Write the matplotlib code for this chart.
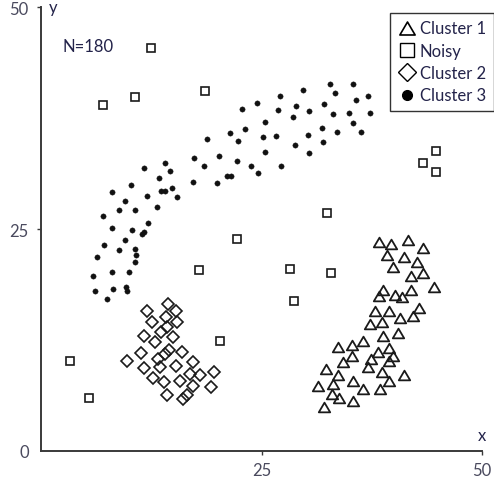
import matplotlib
matplotlib.use("Agg")
import matplotlib.pyplot as plt
from matplotlib.lines import Line2D
from matplotlib.path import Path

plt.rcParams["font.family"] = ["Lato", "DejaVu Sans"]

# ---- data ----
c1_x = [38.3, 39.7, 41.6, 43.3, 39.2, 41.2, 42.6, 39.9, 41.9, 43.3, 44.5, 38.8,
        42.0, 38.3, 40.1, 40.9, 37.9, 39.5, 42.8, 40.7, 42.2, 37.3, 38.7, 38.8,
        40.5, 33.7, 35.3, 36.5, 35.3, 38.2, 39.5, 34.2, 37.4, 39.9, 39.5, 37.1,
        32.3, 33.7, 38.7, 41.2, 35.4, 31.4, 33.1, 39.4, 36.5, 38.4, 33.0, 33.8,
        35.4, 32.1]
c1_y = [23.5, 23.3, 23.8, 22.9, 22.1, 21.8, 21.3, 20.7, 19.7, 20.0, 18.5, 18.1,
        18.1, 17.4, 17.6, 17.3, 15.7, 15.7, 16.1, 15.0, 15.2, 14.3, 14.5, 12.9,
        13.3, 11.7, 11.9, 12.4, 10.7, 11.1, 11.6, 10.0, 10.3, 10.7, 10.1, 9.4,
        9.2, 8.5, 8.9, 8.5, 7.9, 7.3, 7.5, 7.9, 7.0, 7.0, 6.4, 5.9,
        5.6, 4.9]

noisy_x = [12.5, 7.0, 10.6, 18.6, 44.8, 43.3, 44.8, 32.4, 22.2, 17.9, 28.2, 32.9,
           28.7, 20.3, 3.3, 5.4]
noisy_y = [45.4, 39.0, 39.9, 40.6, 33.8, 32.5, 31.4, 26.8, 23.9, 20.4, 20.5, 20.0,
           16.9, 12.4, 10.1, 5.9]

c2_x = [14.4, 12.0, 15.3, 14.2, 12.6, 15.4, 14.3, 13.6, 11.7, 14.9, 12.9, 14.5,
        16.0, 11.3, 9.7, 13.2, 14.0, 17.2, 15.3, 11.7, 13.5, 16.9, 19.6, 18.0,
        12.7, 13.9, 15.7, 17.2, 19.3, 14.3, 16.5, 16.1]
c2_y = [16.5, 15.7, 15.7, 15.1, 14.5, 14.5, 13.9, 13.4, 12.9, 12.8, 12.3, 11.4,
        11.1, 11.0, 10.1, 10.3, 10.9, 10.0, 9.5, 9.3, 9.4, 8.6, 8.9, 8.5,
        8.2, 7.7, 7.9, 7.3, 7.2, 6.3, 6.3, 5.8]

c3_x = [23.1, 21.4, 22.3, 18.8, 17.3, 20.2, 22.2, 23.8, 24.6, 18.5, 14.0, 11.7,
        14.6, 13.4, 21.1, 21.5, 17.2, 19.9, 10.2, 8.0, 13.6, 14.0, 14.8, 15.4,
        12.0, 9.5, 8.8, 10.6, 13.1, 7.0, 8.0, 10.3, 12.1, 11.4, 11.7, 9.5,
        7.1, 8.8, 10.6, 10.7, 6.3, 10.6, 5.9, 8.0, 10.0, 6.1, 8.1, 9.6,
        9.7, 7.5, 32.7, 35.4, 33.3, 29.7, 27.1, 37.1, 35.7, 24.5, 28.9, 32.1,
        22.8, 26.9, 30.4, 33.1, 34.9, 37.3, 28.6, 25.4, 35.4, 31.9, 33.5, 36.3,
        30.3, 25.2, 26.6, 32.0, 28.8, 25.4, 30.4, 27.2]
c3_y = [36.3, 35.8, 34.9, 35.1, 33.0, 33.2, 32.7, 32.1, 31.3, 32.1, 32.5, 31.9,
        31.5, 30.7, 31.0, 31.0, 30.3, 30.2, 30.0, 29.2, 29.3, 29.3, 29.6, 28.6,
        28.7, 28.2, 27.1, 27.1, 27.5, 26.5, 25.1, 24.9, 25.7, 24.4, 24.7, 23.8,
        23.2, 22.6, 22.7, 22.1, 21.8, 21.3, 19.7, 20.1, 20.1, 18.0, 18.2, 18.5,
        18.0, 17.1, 41.3, 41.3, 40.3, 40.7, 40.0, 40.0, 39.5, 39.2, 38.9, 39.1,
        38.5, 38.4, 38.3, 38.0, 38.1, 38.1, 37.6, 37.1, 36.9, 36.4, 35.9, 35.9,
        35.6, 35.4, 35.5, 34.8, 34.5, 33.7, 33.6, 32.1]

labels = ["Cluster 1", "Noisy", "Cluster 2", "Cluster 3"]
n_total = 180

TXT = "#23234a"
AX = "#3a3a3a"

# wide, bbox-centred triangle
tri = Path([(-1, -0.85), (1, -0.85), (0, 0.85), (-1, -0.85)],
           [Path.MOVETO, Path.LINETO, Path.LINETO, Path.CLOSEPOLY])

fig = plt.figure(figsize=(4.94, 4.81), dpi=100)
ax = fig.add_axes([0.0836, 0.0609, 0.8921, 0.9218])

ax.plot(c1_x, c1_y, ls="none", marker=tri, ms=8.2, mfc="none", mec="#1a1a1a", mew=1.3)
ax.plot(noisy_x, noisy_y, ls="none", marker="s", ms=5.2, mfc="none", mec="#1a1a1a", mew=1.2)
ax.plot(c2_x, c2_y, ls="none", marker="D", ms=6.3, mfc="none", mec="#1a1a1a", mew=1.2)
ax.plot(c3_x, c3_y, ls="none", marker="o", ms=3.8, mfc="#111111", mec="#111111", mew=0.3)

ax.set_xlim(0, 50)
ax.set_ylim(0, 50)
for s in ["top", "right"]:
    ax.spines[s].set_visible(False)
for s in ["left", "bottom"]:
    ax.spines[s].set_color(AX)
    ax.spines[s].set_linewidth(1.4)

ax.set_xticks([25, 50])
ax.set_yticks([0, 25, 50])
ax.tick_params(axis="both", length=3, width=1.0, color=AX, labelsize=12,
               labelcolor="#4a4a5e")
ax.tick_params(axis="x", pad=5)
ax.tick_params(axis="y", pad=6)
ax.yaxis.get_major_ticks()[0].tick1line.set_visible(False)

ax.text(0.9, 50, "y", ha="left", va="center", fontsize=12, color=TXT)
ax.text(50, 1.8, "x", ha="center", va="center", fontsize=12, color=TXT)
ax.text(2.4, 45.6, f"N={n_total}", ha="left", va="center", fontsize=12, color=TXT)

handles = [
    Line2D([], [], ls="none", marker=tri, ms=11, mfc="none", mec="black", mew=1.2),
    Line2D([], [], ls="none", marker="s", ms=10, mfc="none", mec="black", mew=1.0),
    Line2D([], [], ls="none", marker="D", ms=9, mfc="none", mec="black", mew=1.0),
    Line2D([], [], ls="none", marker="o", ms=7, mfc="black", mec="black"),
]
leg = ax.legend(handles, labels, loc="upper right", bbox_to_anchor=(0.999, 0.971),
                bbox_transform=fig.transFigure, borderaxespad=0, fontsize=12,
                frameon=True, fancybox=False, edgecolor="black",
                handlelength=1.1, handletextpad=0.25, labelspacing=0.38,
                borderpad=0.45, labelcolor=TXT)
leg.get_frame().set_linewidth(1.0)

fig.savefig("out.png", dpi=100)
